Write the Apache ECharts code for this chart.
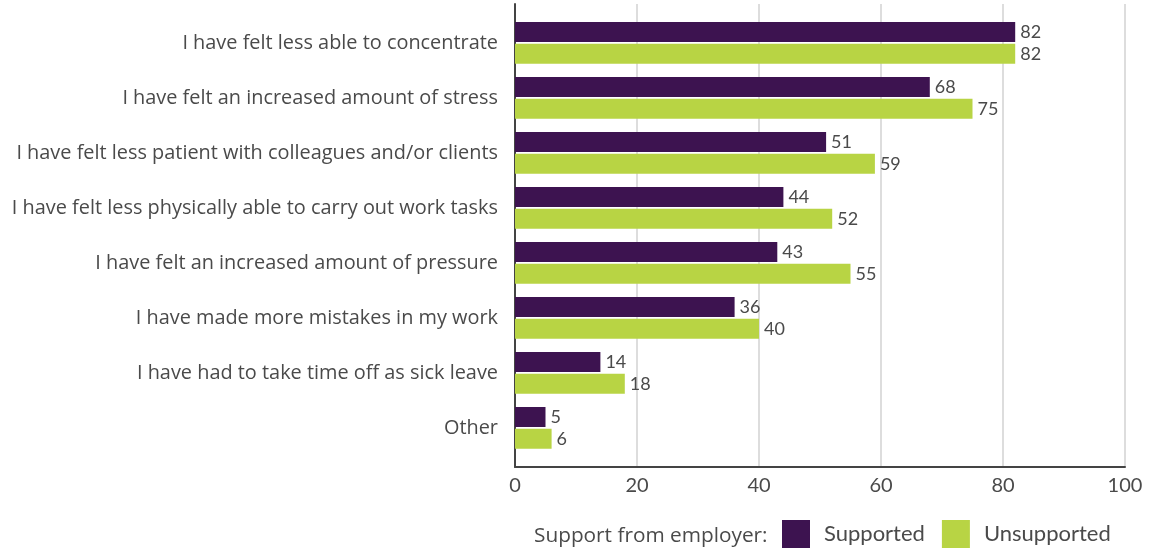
<!DOCTYPE html>
<html>
<head>
<meta charset="utf-8">
<script src="https://cdn.jsdelivr.net/npm/echarts@6/dist/echarts.min.js"></script>
<style>html,body{margin:0;padding:0;background:#fff;}#c{width:1152px;height:550px;}</style>
</head>
<body>
<div id="c"></div>
<script>
const categories = [
  "I have felt less able to concentrate",
  "I have felt an increased amount of stress",
  "I have felt less patient with colleagues and/or clients",
  "I have felt less physically able to carry out work tasks",
  "I have felt an increased amount of pressure",
  "I have made more mistakes in my work",
  "I have had to take time off as sick leave",
  "Other"
];
const supported = [82, 68, 51, 44, 43, 36, 14, 5];
const unsupported = [82, 75, 59, 52, 55, 40, 18, 6];
const xTicks = [0, 20, 40, 60, 80, 100];
const legendTitle = "Support from employer:";
const seriesNames = ["Supported", "Unsupported"];

const FONT = "Lato";
const WFONT = "Open Sans";
const TXT = "#4a4a4a";
const chart = echarts.init(document.getElementById('c'));
chart.setOption({
  animation: false,
  textStyle: { fontFamily: FONT },
  title: {
    text: legendTitle, left: 534, top: 526, padding: 0,
    textStyle: { fontFamily: WFONT, fontSize: 20.8, fontWeight: 'normal', color: TXT }
  },
  legend: {
    data: seriesNames, left: 782, top: 520, padding: 0,
    itemWidth: 28, itemHeight: 28, itemGap: 17, icon: 'rect',
    textStyle: { fontFamily: FONT, fontSize: 22, color: TXT, padding: [5, 0, 0, 9] }
  },
  grid: [
    { left: 515, right: 27, top: 4, height: 463 },
    { left: 515, right: 27, top: 15.4, height: 440 }
  ],
  xAxis: [
    {
      gridIndex: 0, type: 'value', min: xTicks[0], max: xTicks[xTicks.length - 1], interval: 20,
      axisLine: { show: true, lineStyle: { color: '#444', width: 2 } },
      axisTick: { show: false },
      splitLine: { show: true, lineStyle: { color: '#dddddd', width: 2 } },
      axisLabel: { fontFamily: FONT, fontSize: 20, color: TXT, margin: 9 }
    },
    {
      gridIndex: 1, type: 'value', min: xTicks[0], max: xTicks[xTicks.length - 1],
      show: false
    }
  ],
  yAxis: [
    {
      gridIndex: 0, type: 'value', min: 0, max: 1,
      axisLine: { show: true, lineStyle: { color: '#444', width: 2 } },
      axisTick: { show: false }, axisLabel: { show: false }, splitLine: { show: false }
    },
    {
      gridIndex: 1, type: 'category', data: categories, inverse: true,
      axisLine: { show: false }, axisTick: { show: false }, splitLine: { show: false },
      axisLabel: { fontFamily: WFONT, fontSize: 19.9, color: TXT, margin: 17, padding: [0, 0, 4, 0] }
    }
  ],
  series: [
    {
      name: seriesNames[0], type: 'bar', xAxisIndex: 1, yAxisIndex: 1,
      data: supported, barWidth: 20, barGap: '9%',
      itemStyle: { color: '#3d1350' },
      label: { show: true, position: 'right', distance: 5, fontFamily: FONT, fontSize: 18, color: TXT }
    },
    {
      name: seriesNames[1], type: 'bar', xAxisIndex: 1, yAxisIndex: 1,
      data: unsupported, barWidth: 20, barGap: '9%',
      itemStyle: { color: '#b8d444' },
      label: { show: true, position: 'right', distance: 5, fontFamily: FONT, fontSize: 18, color: TXT }
    }
  ]
});
</script>
</body>
</html>
